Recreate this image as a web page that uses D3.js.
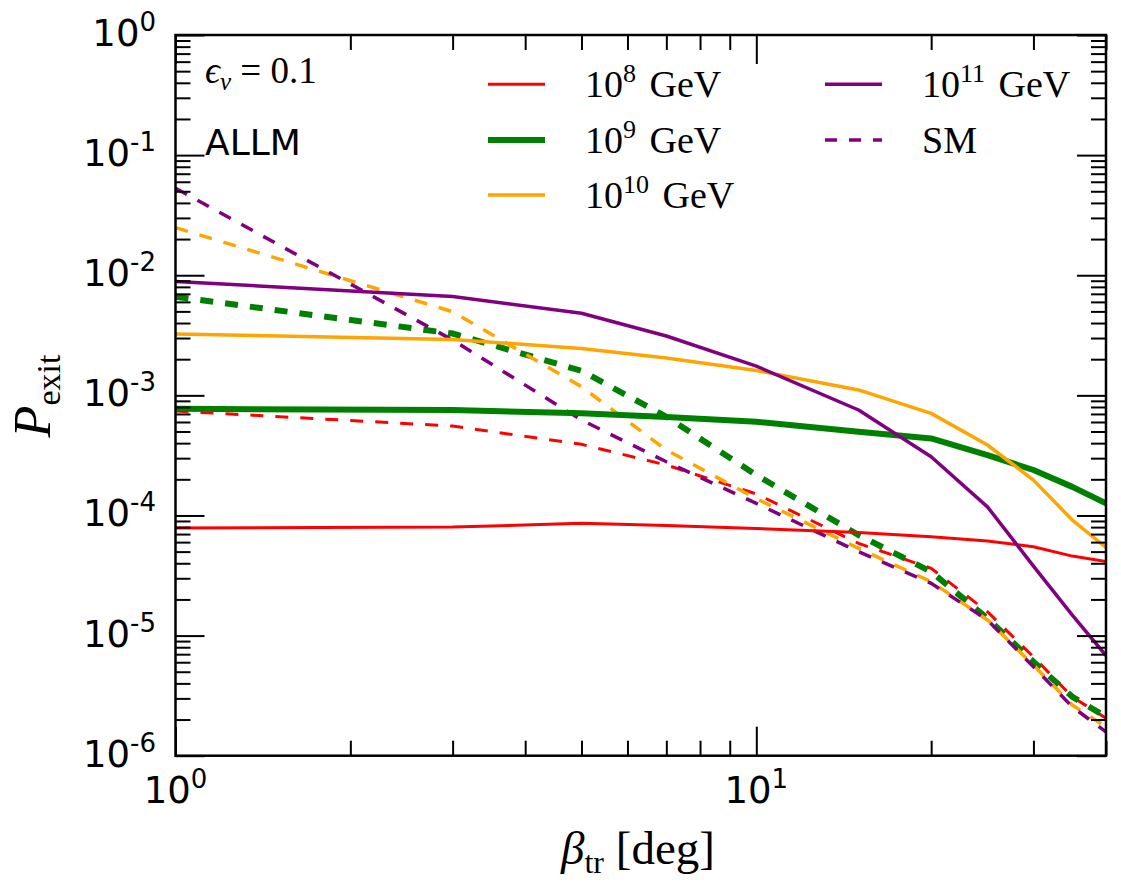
<!DOCTYPE html>
<html>
<head>
<meta charset="utf-8">
<script src="https://cdn.jsdelivr.net/npm/d3@7"></script>
<style>
  body { margin: 0; background: #fff; }
  svg { display: block; }
</style>
</head>
<body>
<div id="chart"></div>
<script>
// trajectory angle in degrees
const betaDeg = [1, 3, 5, 7, 10, 15, 20, 25, 30, 35, 40];

// exit probability, solid lines (epsilon_nu = 0.1)
const pExit8  = [7.85e-5, 8.0e-5, 8.6e-5, 8.24e-5, 7.78e-5, 7.21e-5, 6.65e-5, 6.12e-5, 5.49e-5, 4.59e-5, 4.13e-5];
const pExit9  = [7.73e-4, 7.55e-4, 7.08e-4, 6.59e-4, 6.03e-4, 4.97e-4, 4.38e-4, 3.18e-4, 2.39e-4, 1.73e-4, 1.26e-4];
const pExit10 = [3.24e-3, 2.92e-3, 2.46e-3, 2.05e-3, 1.61e-3, 1.11e-3, 7.08e-4, 3.86e-4, 1.97e-4, 9.16e-5, 5.41e-5];
const pExit11 = [8.87e-3, 6.65e-3, 4.82e-3, 3.12e-3, 1.75e-3, 7.55e-4, 3.08e-4, 1.18e-4, 3.79e-5, 1.48e-5, 6.82e-6];

// exit probability, standard model (dashed)
const pSM8  = [7.40e-4, 5.55e-4, 3.91e-4, 2.63e-4, 1.51e-4, 5.86e-5, 3.63e-5, 1.58e-5, 6.65e-6, 3.09e-6, 2.05e-6];
const pSM9  = [6.62e-3, 3.27e-3, 1.60e-3, 6.64e-4, 2.17e-4, 6.87e-5, 3.40e-5, 1.39e-5, 6.05e-6, 3.09e-6, 2.11e-6];
const pSM10 = [2.49e-2, 4.97e-3, 1.18e-3, 3.51e-4, 1.38e-4, 5.32e-5, 2.81e-5, 1.35e-5, 5.68e-6, 2.64e-6, 1.74e-6];
const pSM11 = [5.29e-2, 2.89e-3, 6.23e-4, 2.80e-4, 1.26e-4, 4.99e-5, 2.72e-5, 1.35e-5, 5.50e-6, 2.55e-6, 1.58e-6];

// energy exponents (10^n GeV)
const energyExp = ["8", "9", "10", "11"];

// tick values
const xMajor = [1, 10];
const xMinor = [2, 3, 4, 5, 6, 7, 8, 9, 20, 30, 40];
const yMajorExp = [0, -1, -2, -3, -4, -5, -6];

const width = 1121;
const height = 890;
const plotLeft = 175.5, plotRight = 1106, plotTop = 35, plotBottom = 755.7;

const colors = ["#ff0000", "#008000", "#ffa500", "#800080"];
const widths = [3, 6, 3.5, 3.5];

const svg = d3.select("#chart").append("svg")
  .attr("width", width)
  .attr("height", height);

svg.append("rect")
  .attr("width", width)
  .attr("height", height)
  .attr("fill", "#fff");

const x = d3.scaleLog().domain([1, 40]).range([plotLeft, plotRight]);
const y = d3.scaleLog().domain([1e-6, 1]).range([plotBottom, plotTop]);

svg.append("defs").append("clipPath")
  .attr("id", "plotClip")
  .append("rect")
  .attr("x", plotLeft)
  .attr("y", plotTop)
  .attr("width", plotRight - plotLeft)
  .attr("height", plotBottom - plotTop);

// lines
const line = d3.line()
  .x((d, i) => x(betaDeg[i]))
  .y(d => y(d));

const solidSeries = [pExit8, pExit9, pExit10, pExit11];
const dashedSeries = [pSM8, pSM9, pSM10, pSM11];

const plot = svg.append("g").attr("clip-path", "url(#plotClip)");

dashedSeries.forEach((s, i) => {
  plot.append("path")
    .attr("d", line(s))
    .attr("fill", "none")
    .attr("stroke", colors[i])
    .attr("stroke-width", widths[i])
    .attr("stroke-dasharray", "13,12");
});

solidSeries.forEach((s, i) => {
  plot.append("path")
    .attr("d", line(s))
    .attr("fill", "none")
    .attr("stroke", colors[i])
    .attr("stroke-width", widths[i])
    .attr("stroke-linejoin", "round");
});

// ticks (inward, on all four sides)
const yMajor = yMajorExp.map(e => Math.pow(10, e));
const yMinor = [];
yMajorExp.slice(0, -1).forEach(e => {
  for (let k = 2; k <= 9; k++) yMinor.push(k * Math.pow(10, e - 1));
});

function addTicks(axis, vals, size, transform) {
  const g = svg.append("g")
    .attr("transform", transform)
    .call(axis.tickValues(vals).tickSize(size).tickFormat(""));
  g.select(".domain").remove();
  g.selectAll("line")
    .attr("stroke", "#000")
    .attr("stroke-width", 2);
}

addTicks(d3.axisBottom(x), xMajor, -29, `translate(0,${plotBottom})`);
addTicks(d3.axisBottom(x), xMinor, -15, `translate(0,${plotBottom})`);
addTicks(d3.axisTop(x), xMajor, -29, `translate(0,${plotTop})`);
addTicks(d3.axisTop(x), xMinor, -15, `translate(0,${plotTop})`);
addTicks(d3.axisLeft(y), yMajor, -29, `translate(${plotLeft},0)`);
addTicks(d3.axisLeft(y), yMinor, -15, `translate(${plotLeft},0)`);
addTicks(d3.axisRight(y), yMajor, -29, `translate(${plotRight},0)`);
addTicks(d3.axisRight(y), yMinor, -15, `translate(${plotRight},0)`);

svg.append("rect")
  .attr("x", plotLeft)
  .attr("y", plotTop)
  .attr("width", plotRight - plotLeft)
  .attr("height", plotBottom - plotTop)
  .attr("fill", "none")
  .attr("stroke", "#000")
  .attr("stroke-width", 2.5);

// tick labels
const tickLabels = svg.append("g")
  .attr("font-family", "DejaVu Sans, sans-serif")
  .attr("font-size", 37);

xMajor.forEach(v => {
  const t = tickLabels.append("text")
    .attr("x", x(v))
    .attr("y", 803)
    .attr("text-anchor", "middle");
  t.append("tspan").text("10");
  t.append("tspan")
    .attr("font-size", 26)
    .attr("dy", -15)
    .text(Math.round(Math.log10(v)));
});

yMajorExp.forEach(e => {
  const t = tickLabels.append("text")
    .attr("x", 156)
    .attr("y", y(Math.pow(10, e)) + 11)
    .attr("text-anchor", "end");
  t.append("tspan").text("10");
  t.append("tspan")
    .attr("font-size", 26)
    .attr("dy", -15)
    .text(e === 0 ? "0" : "-" + Math.abs(e));
});

// axis titles
const serif = "Liberation Serif, Times New Roman, serif";

const xTitle = svg.append("text")
  .attr("x", 638)
  .attr("y", 864)
  .attr("text-anchor", "middle")
  .attr("font-family", serif)
  .attr("font-size", 47);
xTitle.append("tspan").attr("font-style", "italic").text("β");
xTitle.append("tspan").attr("font-size", 32).attr("dy", 9).text("tr");
xTitle.append("tspan").attr("dy", -9).text("  [deg]");

const yTitle = svg.append("text")
  .attr("transform", "translate(50,396) rotate(-90)")
  .attr("text-anchor", "middle")
  .attr("font-family", serif)
  .attr("font-size", 52);
yTitle.append("tspan").attr("font-style", "italic").text("P");
yTitle.append("tspan").attr("font-size", 34).attr("dy", 10).text("exit");

// annotations
const eps = svg.append("text")
  .attr("x", 205)
  .attr("y", 83)
  .attr("font-family", serif)
  .attr("font-size", 37);
eps.append("tspan").attr("font-style", "italic").text("ϵ");
eps.append("tspan").attr("font-style", "italic").attr("font-size", 25).attr("dy", 7).text("ν");
eps.append("tspan").attr("dy", -7).text(" = 0.1");

svg.append("text")
  .attr("x", 205)
  .attr("y", 155)
  .attr("font-family", "DejaVu Sans, sans-serif")
  .attr("font-size", 36)
  .text("ALLM");

// legend
const legendItems = [
  { exp: energyExp[0], color: colors[0], w: widths[0], dash: null, col: 0, row: 0 },
  { exp: energyExp[1], color: colors[1], w: widths[1], dash: null, col: 0, row: 1 },
  { exp: energyExp[2], color: colors[2], w: widths[2], dash: null, col: 0, row: 2 },
  { exp: energyExp[3], color: colors[3], w: widths[3], dash: null, col: 1, row: 0 },
  { exp: null, color: colors[3], w: widths[3], dash: "12,12", col: 1, row: 1 }
];

const colX = [488, 825];
const rowY = [84.3, 140, 195];

const legend = svg.append("g")
  .attr("font-family", serif)
  .attr("font-size", 38);

legendItems.forEach(d => {
  const x0 = colX[d.col];
  const y0 = rowY[d.row];
  legend.append("line")
    .attr("x1", x0)
    .attr("x2", x0 + 57)
    .attr("y1", y0)
    .attr("y2", y0)
    .attr("stroke", d.color)
    .attr("stroke-width", d.w)
    .attr("stroke-dasharray", d.dash);
  const t = legend.append("text")
    .attr("x", x0 + 97)
    .attr("y", y0 + 13);
  if (d.exp) {
    t.append("tspan").text("10");
    t.append("tspan").attr("font-size", 26).attr("dy", -15).text(d.exp);
    t.append("tspan").attr("dy", 15).attr("dx", 4).text(" GeV");
  } else {
    t.text("SM");
  }
});
</script>
</body>
</html>
